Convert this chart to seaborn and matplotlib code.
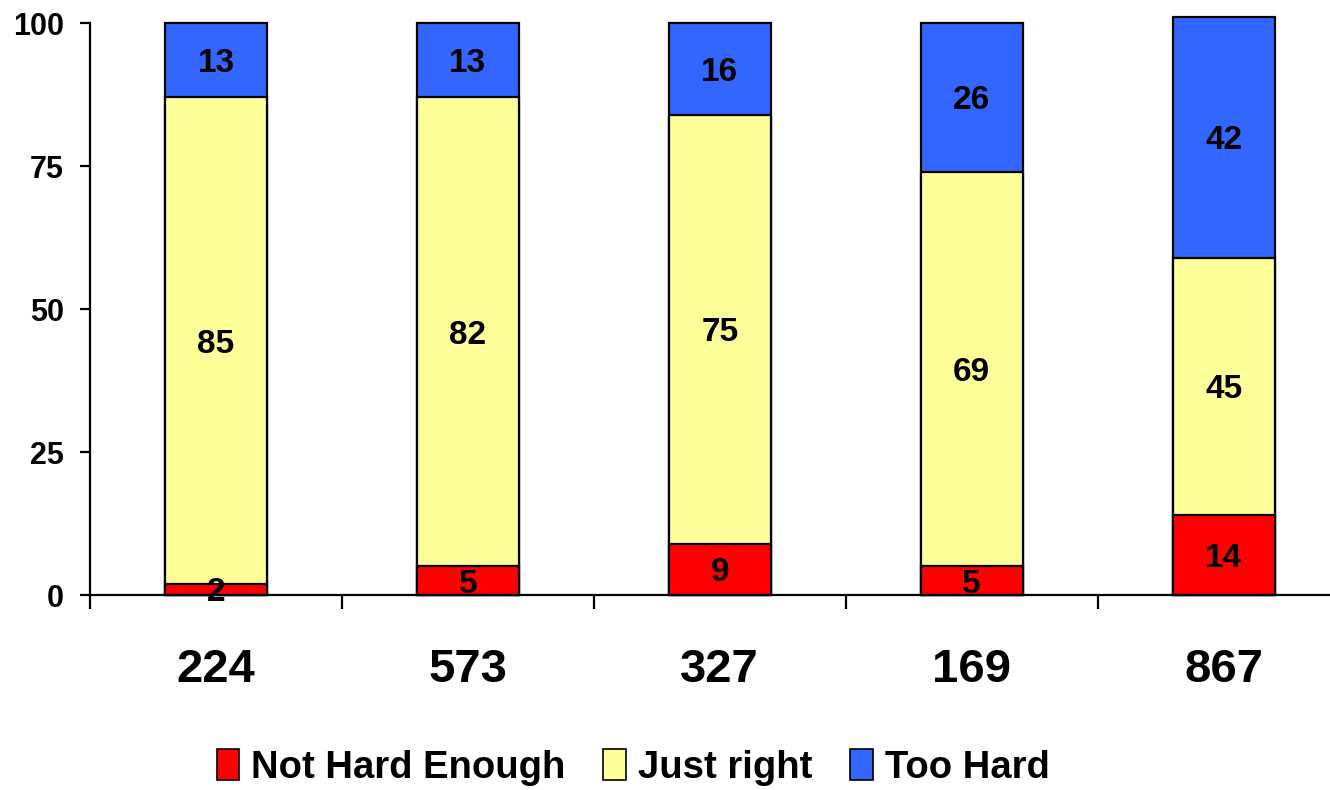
import matplotlib
matplotlib.use("Agg")
import matplotlib.pyplot as plt
import seaborn as sns
import numpy as np
import pandas as pd
from matplotlib.patches import Patch

groups = ["224", "573", "327", "169", "867"]
not_hard = [2, 5, 9, 5, 14]
just_right = [85, 82, 75, 69, 45]
too_hard = [13, 13, 16, 26, 42]

series = ["Not Hard Enough", "Just right", "Too Hard"]
colors = ["#FF0000", "#FFFF99", "#3366FF"]

sns.set_style("white")
plt.rcParams['font.family'] = ['Liberation Sans', 'DejaVu Sans']
plt.rcParams['font.weight'] = 'bold'
plt.rcParams['text.color'] = 'black'
plt.rcParams['xtick.color'] = 'black'
plt.rcParams['ytick.color'] = 'black'

df = pd.DataFrame({"group": groups, "nh": not_hard, "jr": just_right, "th": too_hard})
df["c1"] = df["nh"]
df["c2"] = df["nh"] + df["jr"]
df["c3"] = df["c2"] + df["th"]

fig = plt.figure(figsize=(13.3, 7.9), dpi=100)
ax = fig.add_axes([0.0677, 0.2468, 0.947, 0.724])

# draw cumulative totals, tallest first
for col, c in zip(["c3", "c2", "c1"], colors[::-1]):
    sns.barplot(data=df, x="group", y=col, color=c, width=0.405,
                edgecolor="black", linewidth=1.6, saturation=1,
                clip_on=False, ax=ax)

# value labels centred in each segment
bottoms = np.zeros(len(groups))
for vals in [not_hard, just_right, too_hard]:
    for i, v in enumerate(vals):
        ax.text(i, bottoms[i] + v / 2, str(v), ha="center", va="center_baseline",
                fontsize=24, fontweight="bold", color="black")
    bottoms += np.array(vals)

ax.set_xlim(-0.5, len(groups) - 0.5)
ax.set_ylim(0, 100)
ax.set_yticks([0, 25, 50, 75, 100])
ax.set_xlabel("")
ax.set_ylabel("")
ax.set_xticks(np.arange(len(groups)))
ax.set_xticklabels(groups, fontsize=34, fontweight="bold")
ax.tick_params(axis="x", which="major", bottom=False, length=0, pad=38)
ax.set_xticks(np.arange(len(groups) + 1) - 0.5, minor=True)
ax.tick_params(axis="x", which="minor", bottom=True, direction="out",
               length=10, width=1.6, color="black")
ax.tick_params(axis="y", left=True, direction="out", length=7, width=1.6,
               color="black", labelsize=22, pad=12)
for lab in ax.get_yticklabels():
    lab.set_fontweight("bold")

sns.despine(ax=ax, top=True, right=True)
for s in ["left", "bottom"]:
    ax.spines[s].set_linewidth(1.6)
    ax.spines[s].set_color("black")

handles = [Patch(facecolor=c, edgecolor="black", linewidth=1.2, label=s)
           for s, c in zip(series, colors)]
fig.legend(handles=handles, loc="center", bbox_to_anchor=(0.476, 0.029), ncol=3,
           frameon=False, handlelength=0.6, handleheight=0.9,
           handletextpad=0.3, columnspacing=1.0, prop={"weight": "bold", "size": 27.5})

fig.savefig("out.png", dpi=100)
